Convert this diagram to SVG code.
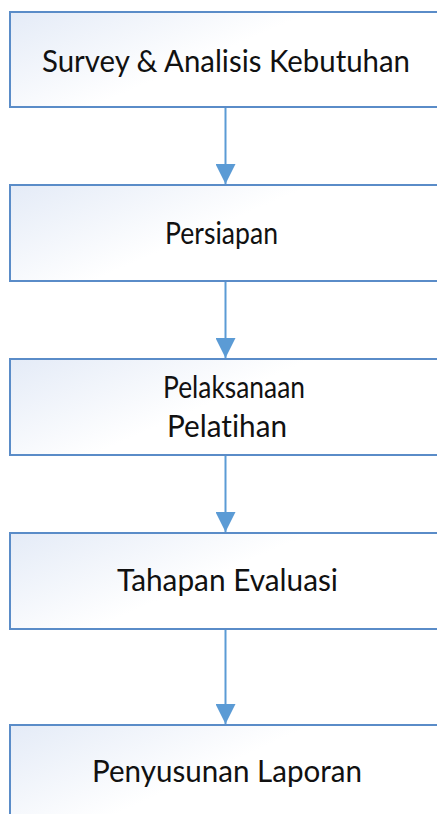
<svg xmlns="http://www.w3.org/2000/svg" width="437" height="814" viewBox="0 0 437 814">
<defs>
<linearGradient id="g" x1="0" y1="0" x2="1" y2="0.5">
<stop offset="0" stop-color="#E4EBF7"/>
<stop offset="0.55" stop-color="#FFFFFF"/>
<stop offset="1" stop-color="#FFFFFF"/>
</linearGradient>
<marker id="ah" markerUnits="userSpaceOnUse" markerWidth="20" markerHeight="20" viewBox="0 0 18 18" refX="18" refY="9" orient="auto">
<path d="M0,0 L18,9 L0,18 Z" fill="#5B9BD5"/>
</marker>
</defs>
<style>
.box{fill:url(#g);stroke:#5A8CC8;stroke-width:2}
.lbl{font-family:Lato,"Liberation Sans",Arial,sans-serif;font-size:31px;fill:#111111;font-variant-ligatures:none;font-feature-settings:"liga" 0,"dlig" 0}
.conn{stroke:#5B9BD5;stroke-width:2;fill:none;marker-end:url(#ah)}
</style>
<rect width="437" height="814" fill="#FFFFFF"/>
<g id="connectors">
<line class="conn" x1="225.5" y1="108" x2="225.5" y2="184"/>
<line class="conn" x1="225.5" y1="282" x2="225.5" y2="358"/>
<line class="conn" x1="225.5" y1="456" x2="225.5" y2="532"/>
<line class="conn" x1="225.5" y1="630" x2="225.5" y2="724"/>
</g>
<g id="n1">
<rect class="box" x="10" y="12" width="440" height="95"/>
<text class="lbl" x="42" y="71.5" textLength="368" lengthAdjust="spacingAndGlyphs">Survey &amp; Analisis Kebutuhan</text>
</g>
<g id="n2">
<rect class="box" x="10" y="185" width="440" height="96"/>
<text class="lbl" x="165" y="244" textLength="113" lengthAdjust="spacingAndGlyphs">Persiapan</text>
</g>
<g id="n3">
<rect class="box" x="10" y="359" width="440" height="96"/>
<text class="lbl" x="163" y="398" textLength="142" lengthAdjust="spacingAndGlyphs">Pelaksanaan</text>
<text class="lbl" x="167" y="437" textLength="120" lengthAdjust="spacingAndGlyphs">Pelatihan</text>
</g>
<g id="n4">
<rect class="box" x="10" y="533" width="440" height="96"/>
<text class="lbl" x="117" y="591" textLength="221" lengthAdjust="spacingAndGlyphs">Tahapan Evaluasi</text>
</g>
<g id="n5">
<rect class="box" x="10" y="725" width="440" height="100"/>
<text class="lbl" x="92" y="782" textLength="270" lengthAdjust="spacingAndGlyphs">Penyusunan Laporan</text>
</g>
</svg>
